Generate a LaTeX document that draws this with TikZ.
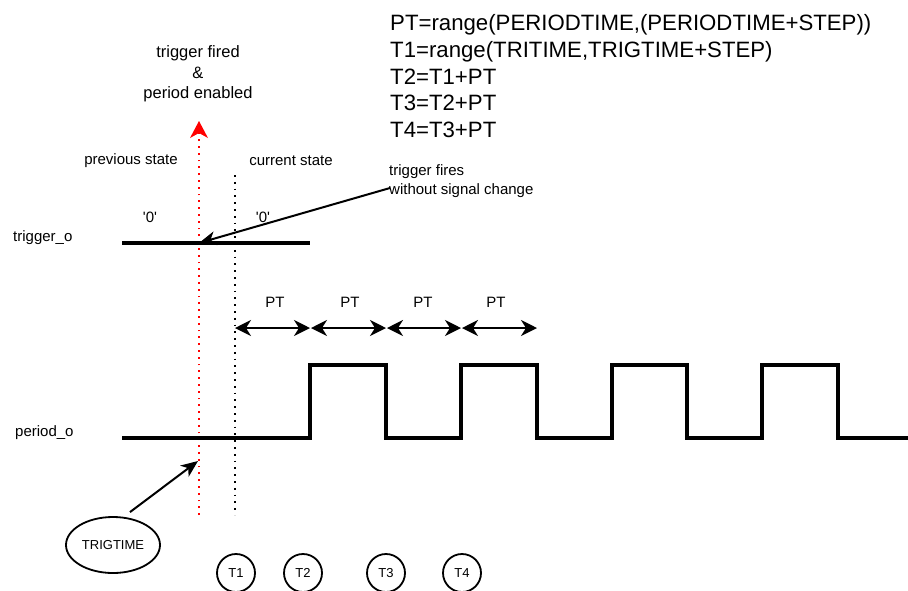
\documentclass[tikz,border=0pt]{standalone}
\usepackage{fontspec}
\setmainfont{Liberation Sans}
\usetikzlibrary{arrows.meta,shapes.geometric}
\begin{document}
\begin{tikzpicture}[x=1pt,y=-1pt,
  txt/.style={inner sep=0pt,font=\fontsize{15}{19}\selectfont},
  bigtxt/.style={inner sep=0pt,font=\fontsize{22.2}{27}\selectfont,anchor=base west},
  sig/.style={line width=3.4pt,line join=miter},
  arr/.style={line width=2pt,-{Stealth[length=17pt,width=14pt,inset=5pt]}},
  ptarr/.style={line width=1.8pt,{Stealth[length=16pt,width=16pt,inset=5pt]}-{Stealth[length=16pt,width=16pt,inset=5pt]}},
  dots/.style={line width=1.8pt,dash pattern=on 1.8pt off 5pt},
  tcirc/.style={circle,draw,line width=1.8pt,minimum size=38pt,inner sep=0pt,font=\fontsize{13}{15}\selectfont}]
\useasboundingbox (0,0) rectangle (908,590);
\clip (0,0) rectangle (908,590);

% formula block
\node[bigtxt] (f1) at (390,30) {PT=range(PERIODTIME,(PERIODTIME+STEP))};
\node[bigtxt] (f2) at (390,57) {T1=range(TRITIME,TRIGTIME+STEP)};
\node[bigtxt] (f3) at (390,84) {T2=T1+PT};
\node[bigtxt] (f4) at (390,110) {T3=T2+PT};
\node[bigtxt] (f5) at (390,137) {T4=T3+PT};

% top labels
\node[inner sep=0pt,align=center,font=\fontsize{16.5}{20.5}\selectfont] (fired) at (198,74) {trigger fired\\\&\\period enabled};
\node[txt] (prev) at (131,161) {previous state};
\node[txt] (curr) at (291,161) {current state};
\node[txt] (z1) at (150,217) {\textquotesingle 0\textquotesingle};
\node[txt] (z2) at (263,217) {\textquotesingle 0\textquotesingle};
\node[txt,anchor=west] (trig) at (13,238) {trigger\_o};
\node[txt,anchor=west] (per) at (15,433) {period\_o};
\node[txt,anchor=base west,align=left] (tf) at (389,194) {trigger fires\\without signal change};

% vertical markers
\coordinate (rtop) at (199,121);
\coordinate (rbot) at (199,515);
\coordinate (btop) at (235,175);
\coordinate (bbot) at (235,515);
\draw[dots,red,-{Stealth[length=17pt,width=18pt,inset=5pt,line width=0pt]}] (rbot) -- (rtop);
\draw[dots,black] (btop) -- (bbot);

% trigger_o signal
\coordinate (ts) at (122,243);
\coordinate (te) at (310,243);
\draw[sig] (ts) -- (te);

% period_o signal
\draw[sig] (122,438) -- (310,438) -- (310,365) -- (386,365) -- (386,438)
  -- (461,438) -- (461,365) -- (537,365) -- (537,438)
  -- (612,438) -- (612,365) -- (687,365) -- (687,438)
  -- (762,438) -- (762,365) -- (838,365) -- (838,438) -- (908,438);

% PT arrows
\coordinate (p0) at (235,328);
\coordinate (p1a) at (310,328);
\coordinate (p1b) at (311,328);
\coordinate (p2a) at (386,328);
\coordinate (p2b) at (387,328);
\coordinate (p3a) at (461,328);
\coordinate (p3b) at (462,328);
\coordinate (p4) at (537,328);
\draw[ptarr] (p0) -- (p1a);
\draw[ptarr] (p1b) -- (p2a);
\draw[ptarr] (p2b) -- (p3a);
\draw[ptarr] (p3b) -- (p4);
\node[txt,anchor=base] (pt1) at (275,307) {PT};
\node[txt,anchor=base] (pt2) at (350,307) {PT};
\node[txt,anchor=base] (pt3) at (423,307) {PT};
\node[txt,anchor=base] (pt4) at (496,307) {PT};

% trigger fires arrow
\coordinate (tfs) at (390,188);
\coordinate (hit) at (199,243);
\draw[arr] (tfs) -- (hit);

% TRIGTIME
\node[ellipse,draw,line width=1.8pt,minimum width=94pt,minimum height=56pt,inner sep=0pt,font=\fontsize{13}{15}\selectfont] (tt) at (113,545) {TRIGTIME};
\coordinate (tthit) at (198,461);
\path (tt.north) ++(17,-4) coordinate (ttstart);
\draw[arr] (ttstart) -- (tthit);

% time circles
\node[tcirc] (T1) at (236,573) {T1};
\node[tcirc] (T2) at (303,573) {T2};
\node[tcirc] (T3) at (386,573) {T3};
\node[tcirc] (T4) at (462,573) {T4};
\end{tikzpicture}
\end{document}
